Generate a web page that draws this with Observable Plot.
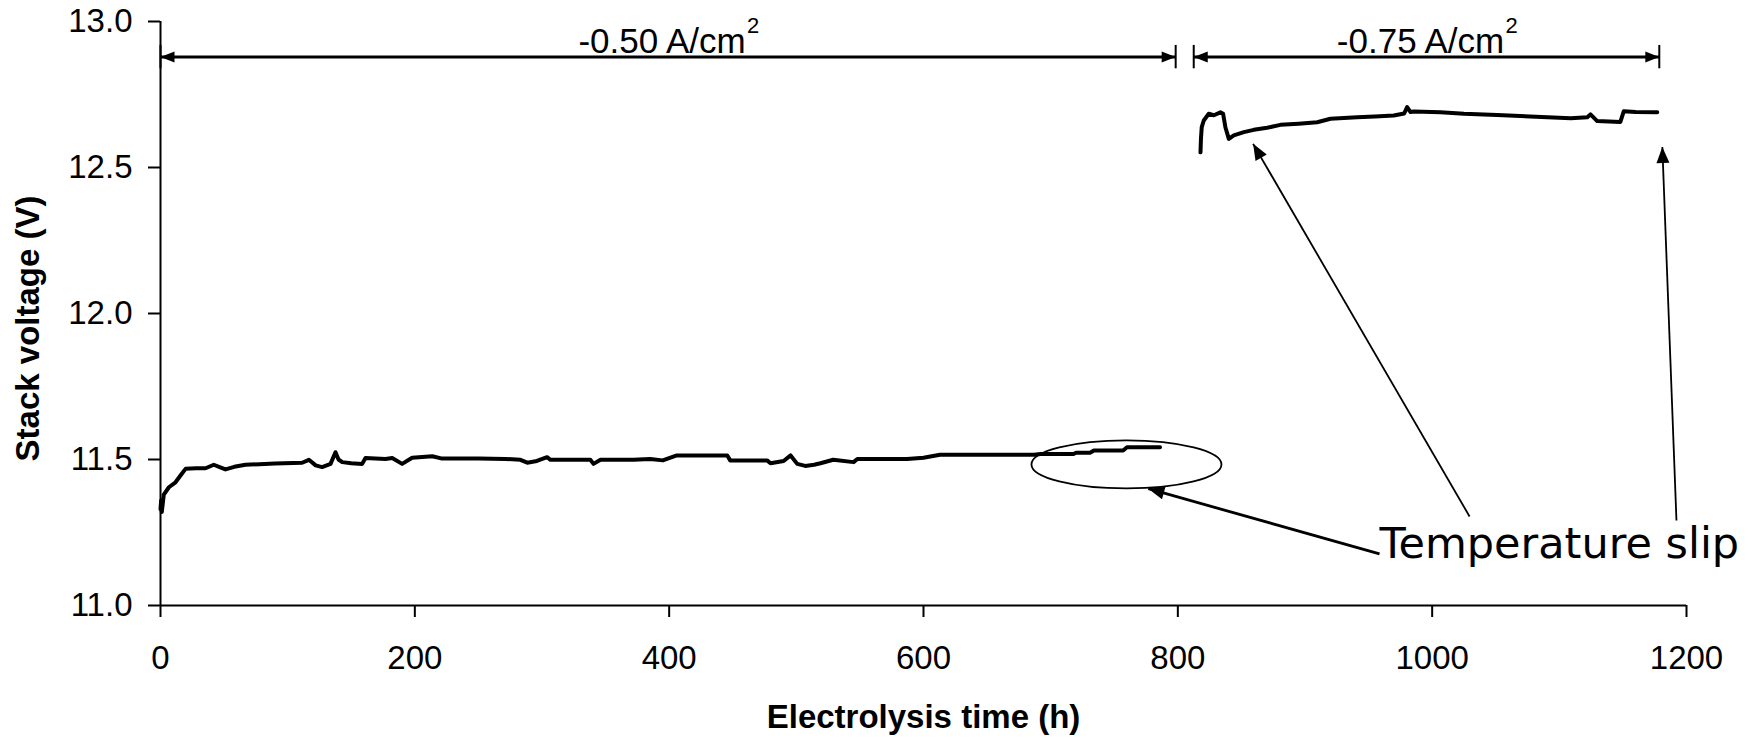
<!DOCTYPE html>
<html><head><meta charset="utf-8">
<script src="https://cdn.jsdelivr.net/npm/d3@7"></script>
<script src="https://cdn.jsdelivr.net/npm/@observablehq/plot@0.6"></script>
<style>
html,body{margin:0;padding:0;background:#fff;}
</style>
</head><body><div id="chart"></div>
<script>
// ---- data ----
const xTicks = [0, 200, 400, 600, 800, 1000, 1200];
const yTicks = [11.0, 11.5, 12.0, 12.5, 13.0];
const xTitle = "Electrolysis time (h)";
const yTitle = "Stack voltage (V)";

// -0.50 A/cm2 period
const series1Time = [0, 0.5, 1, 2.6, 6.6, 11.8, 15.7, 19.7, 28, 35.4, 41.9, 46, 51.1, 58, 66.8, 90, 111.4, 116.7, 122, 127.1, 133.7, 137.6, 140, 142.9, 150, 158.6, 161.2, 176.9, 182.2, 190, 197.9, 213.7, 221.5, 250, 271.3, 283, 288.4, 296, 304, 306.7, 338, 340.5, 346, 372, 385, 395, 406, 445.7, 448, 477, 479.7, 490, 495.5, 500.7, 507, 514, 519, 529, 545, 548, 587, 600, 613, 650, 687, 692, 718, 720, 731, 734, 757, 760, 786];
const series1Voltage = [11.33, 11.36, 11.32, 11.38, 11.405, 11.422, 11.445, 11.468, 11.47, 11.47, 11.482, 11.475, 11.466, 11.475, 11.482, 11.486, 11.489, 11.499, 11.48, 11.474, 11.485, 11.525, 11.5, 11.491, 11.487, 11.485, 11.505, 11.502, 11.505, 11.485, 11.506, 11.511, 11.503, 11.503, 11.502, 11.499, 11.489, 11.495, 11.508, 11.499, 11.499, 11.485, 11.499, 11.499, 11.502, 11.497, 11.514, 11.514, 11.497, 11.497, 11.487, 11.495, 11.514, 11.485, 11.478, 11.482, 11.487, 11.499, 11.491, 11.502, 11.502, 11.506, 11.516, 11.516, 11.516, 11.519, 11.519, 11.523, 11.523, 11.531, 11.531, 11.542, 11.542];

// -0.75 A/cm2 period
const series2Time = [817.8, 818.2, 818.8, 820.4, 824.3, 828.3, 833.5, 835.6, 837.4, 840.1, 844, 851.9, 859.7, 870.2, 880.7, 895, 909.6, 920, 941, 955, 969.8, 978, 980.3, 983, 985.6, 1006.5, 1025, 1051, 1077, 1109, 1122, 1124.5, 1129.8, 1148, 1150.7, 1160, 1177];
const series2Voltage = [12.552, 12.6, 12.638, 12.661, 12.684, 12.679, 12.689, 12.684, 12.638, 12.598, 12.61, 12.621, 12.629, 12.636, 12.646, 12.65, 12.655, 12.667, 12.672, 12.675, 12.678, 12.685, 12.707, 12.69, 12.692, 12.689, 12.684, 12.68, 12.675, 12.669, 12.672, 12.682, 12.659, 12.656, 12.693, 12.69, 12.689];

// current-density spans (hours) drawn as dimension arrows
const spanLabels = ["-0.50 A/cm", "-0.75 A/cm"];
const spanSuperscript = "2";
const spanStart = [0, 812.5];
const spanEnd = [798.3, 1178.6];
const spanLevel = 12.878;
const spanBarLow = 12.838, spanBarHigh = 12.918;
const spanLabelLevel = 12.932;

// callout
const calloutLabel = "Temperature slip";
const calloutLabelAt = [958.6, 11.21];
const calloutFromTime = [958.6, 1029.4, 1192.1];
const calloutFromVolt = [11.177, 11.305, 11.291];
const calloutToTime = [776.8, 859.2, 1181];
const calloutToVolt = [11.40, 12.581, 12.57];
const ellipseCenter = [759.6, 11.483];

// ---- build tables ----
const s1 = series1Time.map((t, i) => ({t, v: series1Voltage[i]}));
const s2 = series2Time.map((t, i) => ({t, v: series2Voltage[i]}));
const spans = spanLabels.map((label, i) => ({label, a: spanStart[i], b: spanEnd[i]}));
const callouts = calloutFromTime.map((t, i) => ({x1: t, y1: calloutFromVolt[i], x2: calloutToTime[i], y2: calloutToVolt[i]}));

const common = {
  width: 1754, height: 738,
  marginLeft: 160, marginRight: 68, marginTop: 21, marginBottom: 133,
  x: {domain: [0, 1200], label: null},
  y: {domain: [11, 13], label: null},
  style: {fontFamily: "'Liberation Sans', Arial, sans-serif", color: "black", background: "white", overflow: "visible"}
};

// probe the scales to orient arrowheads in screen space
const probe = Plot.plot({...common, marks: [Plot.line(s1, {x: "t", y: "v"})]});
const sx = probe.scale("x"), sy = probe.scale("y");
const angle = (x1, y1, x2, y2) => Math.atan2(sy.apply(y2) - sy.apply(y1), sx.apply(x2) - sx.apply(x1));

function head(theta, L, w) {
  const c = Math.cos(theta), s = Math.sin(theta);
  return {draw(ctx) {
    const bx = -L * c, by = -L * s;
    ctx.moveTo(0, 0);
    ctx.lineTo(bx + w * s, by - w * c);
    ctx.lineTo(bx - w * s, by + w * c);
    ctx.closePath();
  }};
}
function ellipse(rx, ry) {
  const k = 0.5523;
  return {draw(ctx) {
    ctx.moveTo(rx, 0);
    ctx.bezierCurveTo(rx, k * ry, k * rx, ry, 0, ry);
    ctx.bezierCurveTo(-k * rx, ry, -rx, k * ry, -rx, 0);
    ctx.bezierCurveTo(-rx, -k * ry, -k * rx, -ry, 0, -ry);
    ctx.bezierCurveTo(k * rx, -ry, rx, -k * ry, rx, 0);
    ctx.closePath();
  }};
}

const marks = [
  // axes
  Plot.ruleX([0], {stroke: "black", strokeWidth: 2}),
  Plot.ruleY([11], {stroke: "black", strokeWidth: 2}),
  Plot.axisX({ticks: xTicks, tickFormat: d => String(d), tickSize: 12, tickPadding: 28, fontSize: 33, strokeWidth: 2, label: null}),
  Plot.axisY({ticks: yTicks, tickFormat: d => d.toFixed(1), tickSize: 12, tickPadding: 16, fontSize: 33, strokeWidth: 2, label: null}),
  Plot.text([xTitle], {frameAnchor: "bottom", textAnchor: "middle", lineAnchor: "middle", dy: 112, fontSize: 33, fontWeight: "bold"}),
  Plot.text([yTitle], {frameAnchor: "left", textAnchor: "middle", lineAnchor: "middle", rotate: -90, dx: -132, dy: 15, fontSize: 33, fontWeight: "bold"}),
  // data
  Plot.line(s1, {x: "t", y: "v", stroke: "black", strokeWidth: 4}),
  Plot.line(s2, {x: "t", y: "v", stroke: "black", strokeWidth: 4}),
  // dimension arrows
  Plot.link(spans, {x1: "a", x2: "b", y1: () => spanLevel, y2: () => spanLevel, stroke: "black", strokeWidth: 3}),
  Plot.ruleX(spans, {x: "a", y1: () => spanBarLow, y2: () => spanBarHigh, stroke: "black", strokeWidth: 2}),
  Plot.ruleX(spans, {x: "b", y1: () => spanBarLow, y2: () => spanBarHigh, stroke: "black", strokeWidth: 2}),
  Plot.dot(spans, {x: "a", y: () => spanLevel, symbol: head(Math.PI, 14, 5.5), fill: "black", r: 5}),
  Plot.dot(spans, {x: "b", y: () => spanLevel, symbol: head(0, 14, 5.5), fill: "black", r: 5}),
  Plot.text(spans, {x: d => (d.a + d.b) / 2, y: () => spanLabelLevel, text: "label", textAnchor: "middle", dx: -6, fontSize: 35}),
  Plot.text(spans, {x: d => (d.a + d.b) / 2, y: () => spanLabelLevel, text: () => spanSuperscript, textAnchor: "start", dx: 79, dy: -15, fontSize: 22}),
  // callout
  Plot.dot([ellipseCenter], {x: d => d[0], y: d => d[1], symbol: ellipse(95, 24), fill: "none", stroke: "black", strokeWidth: 1.8, r: 5}),
  ...callouts.map((c, i) => Plot.link([c], {x1: "x1", y1: "y1", x2: "x2", y2: "y2", stroke: "black", strokeWidth: i === 0 ? 2.8 : 1.8})),
  ...callouts.map(c => Plot.dot([c], {x: "x2", y: "y2", fill: "black", r: 5,
    symbol: head(angle(c.x1, c.y1, c.x2, c.y2), 16, 6.5)})),
  Plot.text([calloutLabel], {x: () => calloutLabelAt[0], y: () => calloutLabelAt[1], textAnchor: "start", fontSize: 43, fontFamily: "'DejaVu Sans', Verdana, sans-serif"})
];

const chart = Plot.plot({...common, marks});
document.getElementById("chart").appendChild(chart);
</script>
</body></html>
